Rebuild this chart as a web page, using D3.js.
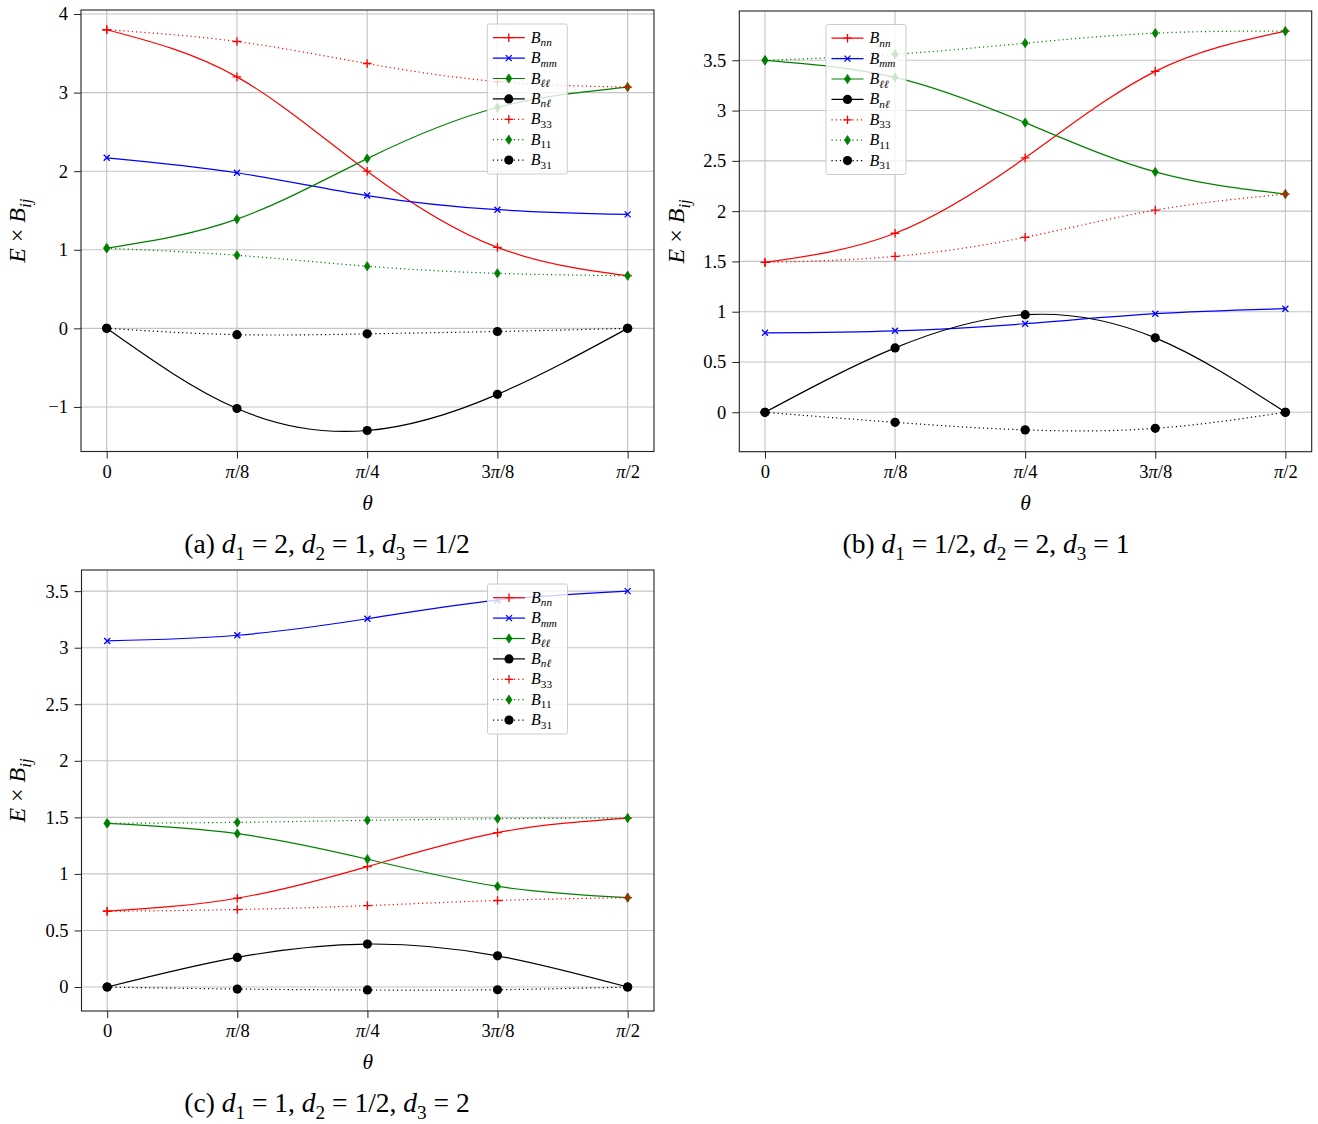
<!DOCTYPE html>
<html><head><meta charset="utf-8">
<script src="https://cdn.jsdelivr.net/npm/d3@7"></script>
<style>
body{margin:0;background:#fff}
text{font-family:"Liberation Serif","Times New Roman",serif;fill:#000}
</style>
</head><body>
<svg id="chart" width="1318" height="1124"></svg>
<script>
// ---------- data ----------
const thetaVals = [0, Math.PI/8, Math.PI/4, 3*Math.PI/8, Math.PI/2];
const xTickLabels = ["0", "π/8", "π/4", "3π/8", "π/2"];

const seriesSubs = ["nn", "mm", "ℓℓ", "nℓ", "33", "11", "31"];
const seriesColors = ["#ff0000", "#0000ff", "#008000", "#000000", "#ff0000", "#008000", "#000000"];
const seriesMarkers = ["plus", "x", "diamond", "circle", "plus", "diamond", "circle"];
const seriesDotted = [false, false, false, false, true, true, true];

const aYTicks = [-1, 0, 1, 2, 3, 4];
const aYTickLabels = ["−1", "0", "1", "2", "3", "4"];
const bcYTicks = [0, 0.5, 1, 1.5, 2, 2.5, 3, 3.5];
const bcYTickLabels = ["0", "0.5", "1", "1.5", "2", "2.5", "3", "3.5"];

// panel (a): d1 = 2, d2 = 1, d3 = 1/2
const aBnn = [3.80, 3.20, 2.00, 1.03, 0.67];
const aBmm = [2.17, 1.98, 1.69, 1.51, 1.45];
const aBll = [1.02, 1.39, 2.16, 2.81, 3.07];
const aBnl = [0, -1.02, -1.30, -0.84, 0];
const aB33 = [3.80, 3.65, 3.37, 3.14, 3.07];
const aB11 = [1.02, 0.93, 0.79, 0.70, 0.67];
const aB31 = [0, -0.08, -0.07, -0.04, 0];

// panel (b): d1 = 1/2, d2 = 2, d3 = 1
const bBnn = [1.49, 1.78, 2.53, 3.39, 3.79];
const bBmm = [0.79, 0.81, 0.88, 0.98, 1.03];
const bBll = [3.50, 3.33, 2.88, 2.39, 2.17];
const bBnl = [0, 0.64, 0.97, 0.74, 0];
const bB33 = [1.49, 1.55, 1.74, 2.01, 2.17];
const bB11 = [3.50, 3.56, 3.67, 3.77, 3.79];
const bB31 = [0, -0.10, -0.175, -0.16, 0];

// panel (c): d1 = 1, d2 = 1/2, d3 = 2
const cBnn = [0.67, 0.785, 1.065, 1.365, 1.494];
const cBmm = [3.06, 3.11, 3.256, 3.42, 3.50];
const cBll = [1.447, 1.356, 1.13, 0.89, 0.79];
const cBnl = [0, 0.262, 0.38, 0.276, 0];
const cB33 = [0.67, 0.685, 0.72, 0.765, 0.79];
const cB11 = [1.447, 1.456, 1.474, 1.488, 1.494];
const cB31 = [0, -0.018, -0.026, -0.024, 0];

const captionA = [["(a) "], ["d", "i"], ["1", "s"], [" = 2, "], ["d", "i"], ["2", "s"], [" = 1, "], ["d", "i"], ["3", "s"], [" = 1/2"]];
const captionB = [["(b) "], ["d", "i"], ["1", "s"], [" = 1/2, "], ["d", "i"], ["2", "s"], [" = 2, "], ["d", "i"], ["3", "s"], [" = 1"]];
const captionC = [["(c) "], ["d", "i"], ["1", "s"], [" = 1, "], ["d", "i"], ["2", "s"], [" = 1/2, "], ["d", "i"], ["3", "s"], [" = 2"]];

// ---------- layout ----------
const panels = [
  {x0: 81, x1: 654, y0: 10, y1: 451.5, yDom: [-1.567, 4.051], ticks: aYTicks, tickLabels: aYTickLabels,
   series: [aBnn, aBmm, aBll, aBnl, aB33, aB11, aB31], legend: [487.3, 24], ylabX: 25, capX: 327, capY: 553, caption: captionA},
  {x0: 739.3, x1: 1311.7, y0: 11, y1: 451.7, yDom: [-0.392, 3.99], ticks: bcYTicks, tickLabels: bcYTickLabels,
   series: [bBnn, bBmm, bBll, bBnl, bB33, bB11, bB31], legend: [826, 24.5], ylabX: 684, capX: 986, capY: 553, caption: captionB},
  {x0: 81.5, x1: 654, y0: 570, y1: 1011, yDom: [-0.212, 3.687], ticks: bcYTicks, tickLabels: bcYTickLabels,
   series: [cBnn, cBmm, cBll, cBnl, cB33, cB11, cB31], legend: [487.5, 584], ylabX: 25, capX: 327, capY: 1112, caption: captionC}
];

const TICK_FS = 18.5, LABEL_FS = 24, THETA_FS = 21.5, CAP_FS = 27.5, LEG_FS = 16;

const svg = d3.select("#chart");
svg.append("rect").attr("width", 1318).attr("height", 1124).attr("fill", "#fff");

function richText(sel, parts, size) {
  parts.forEach((p, i) => {
    const prevSub = i > 0 && parts[i-1][1] === "s";
    const isSub = p[1] === "s";
    const t = sel.append("tspan").text(p[0]);
    if (p[1] === "i" || p[2] === "i") t.attr("font-style", "italic");
    if (isSub) t.attr("font-size", size * 0.7);
    let dy = 0;
    if (isSub && !prevSub) dy += size * 0.25;
    if (!isSub && prevSub) dy -= size * 0.25;
    if (dy) t.attr("dy", dy);
  });
}

function markerPath(kind) {
  if (kind === "plus") return "M-4.3,0H4.3M0,-4.3V4.3";
  if (kind === "x") return "M-3,-3L3,3M-3,3L3,-3";
  if (kind === "diamond") return "M0,-4.6L3,0L0,4.6L-3,0Z";
  return null;
}

function drawMarker(g, kind, color, x, y) {
  if (kind === "circle") {
    g.append("circle").attr("cx", x).attr("cy", y).attr("r", 4.6).attr("fill", color);
  } else if (kind === "diamond") {
    g.append("path").attr("d", markerPath(kind)).attr("transform", `translate(${x},${y})`)
      .attr("fill", color).attr("stroke", color).attr("stroke-width", 0.8);
  } else {
    g.append("path").attr("d", markerPath(kind)).attr("transform", `translate(${x},${y})`)
      .attr("fill", "none").attr("stroke", color).attr("stroke-width", 1.3);
  }
}

panels.forEach(P => {
  const x = d3.scaleLinear().domain([-0.0775, Math.PI/2 + 0.0795]).range([P.x0, P.x1]);
  const y = d3.scaleLinear().domain(P.yDom).range([P.y1, P.y0]);
  const g = svg.append("g");

  // grid
  const grid = g.append("g");
  grid.selectAll("line.gx").data(thetaVals).join("line")
    .attr("x1", d => x(d)).attr("x2", d => x(d)).attr("y1", P.y0).attr("y2", P.y1)
    .attr("stroke", "#c4c4c4").attr("stroke-width", 1.1);
  grid.selectAll("line.gy").data(P.ticks).join("line")
    .attr("y1", d => y(d)).attr("y2", d => y(d)).attr("x1", P.x0).attr("x2", P.x1)
    .attr("stroke", "#c4c4c4").attr("stroke-width", 1.1);

  // series
  const clip = "clip" + Math.round(P.x0) + Math.round(P.y0);
  svg.append("clipPath").attr("id", clip).append("rect")
    .attr("x", P.x0).attr("y", P.y0).attr("width", P.x1 - P.x0).attr("height", P.y1 - P.y0);
  const sg = g.append("g").attr("clip-path", `url(#${clip})`);
  const line = d3.line().x((d, i) => x(thetaVals[i])).y(d => y(d)).curve(d3.curveNatural);
  P.series.forEach((vals, si) => {
    sg.append("path").attr("d", line(vals)).attr("fill", "none")
      .attr("stroke", seriesColors[si]).attr("stroke-width", 1.2)
      .attr("stroke-dasharray", seriesDotted[si] ? "1.2,3" : null);
    vals.forEach((v, i) => drawMarker(sg, seriesMarkers[si], seriesColors[si], x(thetaVals[i]), y(v)));
  });

  // axes
  const xAxis = d3.axisBottom(x).tickValues(thetaVals).tickFormat((d, i) => xTickLabels[i]).tickSize(7).tickPadding(6);
  const yAxis = d3.axisLeft(y).tickValues(P.ticks).tickFormat((d, i) => P.tickLabels[i]).tickSize(7).tickPadding(6);
  const gx = g.append("g").attr("transform", `translate(0,${P.y1})`).call(xAxis);
  const gy = g.append("g").attr("transform", `translate(${P.x0},0)`).call(yAxis);
  [gx, gy].forEach(a => {
    a.select(".domain").remove();
    a.selectAll(".tick line").attr("stroke", "#222").attr("stroke-width", 1);
    a.selectAll(".tick text").attr("font-family", "Liberation Serif, serif").attr("font-size", TICK_FS).attr("fill", "#000");
  });
  // italic pi only
  gx.selectAll(".tick text").each(function(d, i) {
    const s = xTickLabels[i];
    const k = s.indexOf("π");
    if (k < 0) return;
    const el = d3.select(this).text(null);
    if (k > 0) el.append("tspan").text(s.slice(0, k));
    el.append("tspan").attr("font-style", "italic").text("π");
    el.append("tspan").text(s.slice(k + 1));
  });

  // frame
  g.append("rect").attr("x", P.x0).attr("y", P.y0).attr("width", P.x1 - P.x0).attr("height", P.y1 - P.y0)
    .attr("fill", "none").attr("stroke", "#222").attr("stroke-width", 1.1);

  // axis labels
  g.append("text").attr("x", (P.x0 + P.x1) / 2).attr("y", P.y1 + 58).attr("text-anchor", "middle")
    .attr("font-size", THETA_FS).attr("font-style", "italic").text("θ");
  const yl = g.append("text").attr("transform", `translate(${P.ylabX},${(P.y0 + P.y1) / 2}) rotate(-90)`)
    .attr("text-anchor", "middle").attr("font-size", LABEL_FS);
  richText(yl, [["E", "i"], [" × "], ["B", "i"], ["ij", "s", "i"]], LABEL_FS);

  // legend
  const [lx, ly] = P.legend;
  const lg = g.append("g").attr("transform", `translate(${lx},${ly})`);
  lg.append("rect").attr("width", 80).attr("height", 150).attr("rx", 2)
    .attr("fill", "#fff").attr("fill-opacity", 0.8).attr("stroke", "#cccccc").attr("stroke-width", 1);
  seriesSubs.forEach((sub, si) => {
    const ry = 13.7 + si * 20.4;
    lg.append("line").attr("x1", 5.5).attr("x2", 37.5).attr("y1", ry).attr("y2", ry)
      .attr("stroke", seriesColors[si]).attr("stroke-width", 1.2)
      .attr("stroke-dasharray", seriesDotted[si] ? "1.2,3" : null);
    drawMarker(lg, seriesMarkers[si], seriesColors[si], 21.5, ry);
    const t = lg.append("text").attr("x", 43.5).attr("y", ry + 5).attr("font-size", LEG_FS);
    t.append("tspan").attr("font-style", "italic").text("B");
    t.append("tspan").attr("font-size", LEG_FS * 0.7).attr("dy", 3.5)
      .attr("font-style", /\d/.test(sub) ? null : "italic").text(sub);
  });

  // caption
  const cap = svg.append("text").attr("x", P.capX).attr("y", P.capY).attr("text-anchor", "middle").attr("font-size", CAP_FS);
  richText(cap, P.caption, CAP_FS);
});
</script>
</body></html>
